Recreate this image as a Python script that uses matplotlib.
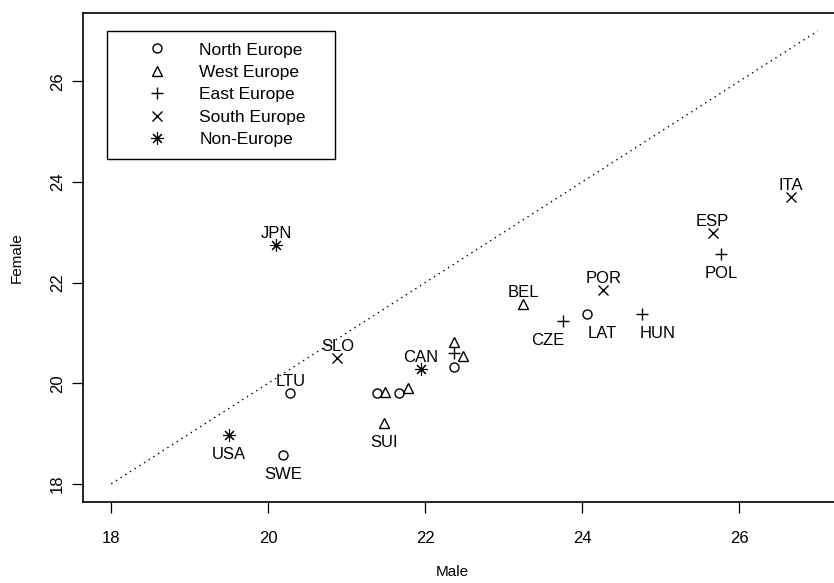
import matplotlib
matplotlib.use("Agg")
import matplotlib.pyplot as plt
from matplotlib.lines import Line2D

plt.rcParams['font.family'] = ['Liberation Sans', 'DejaVu Sans']

# mean age at first marriage by country
male = [20.10, 19.50, 20.19, 20.28, 20.88, 21.94, 21.48,
        21.38, 21.49, 21.67, 21.78,
        22.36, 22.36, 22.48, 22.36,
        23.25, 23.76, 24.06, 24.27, 24.76,
        26.66, 25.66, 25.77]
female = [22.75, 18.97, 18.58, 19.81, 20.50, 20.29, 19.21,
          19.81, 19.83, 19.81, 19.91,
          20.82, 20.60, 20.54, 20.33,
          21.58, 21.24, 21.38, 21.86, 21.38,
          23.71, 22.99, 22.57]
region = ["Non", "Non", "North", "North", "South", "Non", "West",
          "North", "West", "North", "West",
          "West", "East", "West", "North",
          "West", "East", "North", "South", "East",
          "South", "South", "East"]
code = ["JPN", "USA", "SWE", "LTU", "SLO", "CAN", "SUI",
        "", "", "", "",
        "", "", "", "",
        "BEL", "CZE", "LAT", "POR", "HUN",
        "ITA", "ESP", "POL"]

region_names = ["North", "West", "East", "South", "Non"]
legend_labels = ["North Europe", "West Europe", "East Europe",
                 "South Europe", "Non-Europe"]

# marker look per region (R pch 1, 2, 3, 4, 8)
marker_style = {
    "North": dict(marker="o", ms=6.5, mfc="none", mew=1.0),
    "West": dict(marker="^", ms=7, mfc="none", mew=1.0),
    "East": dict(marker="+", ms=9, mew=1.0),
    "South": dict(marker="x", ms=7.5, mew=1.0),
    "Non": dict(marker=(8, 2, 0), ms=9, mew=0.8),
}

# where each country code sits relative to its point (offset points)
up = (0, 8)
down = (0, -14)
label_offset = {
    "JPN": up, "USA": down, "SWE": down, "LTU": up, "SLO": up,
    "CAN": up, "SUI": down, "BEL": up, "CZE": (-11, -14),
    "LAT": (11, -14), "POR": up, "HUN": (11, -14), "ITA": up,
    "ESP": up, "POL": down,
}

fig = plt.figure(figsize=(8.34, 5.83), dpi=100)
ax = fig.add_axes([0.0995, 0.139, 0.915, 0.839])

# reference line: equal ages
ax.plot([18, 27], [18, 27], color="black", lw=1.0, ls=(0, (1, 3)))

for r in region_names:
    xs = [m for m, g in zip(male, region) if g == r]
    ys = [f for f, g in zip(female, region) if g == r]
    ax.plot(xs, ys, ls="none", color="black", **marker_style[r])

for m, f, c in zip(male, female, code):
    if c:
        ax.annotate(c, (m, f), xytext=label_offset[c], textcoords="offset points",
                    ha="center", va="center", fontsize=12)

ax.set_xlim(17.64, 27.36)
ax.set_ylim(17.64, 27.36)
ax.set_xticks([18, 20, 22, 24, 26])
ax.set_yticks([18, 20, 22, 24, 26])
ax.tick_params(direction="out", length=8, width=0.9, labelsize=12)
ax.tick_params(axis="x", pad=13)
ax.tick_params(axis="y", pad=5)
for lab in ax.get_yticklabels():
    lab.set_rotation(90)
    lab.set_va("center")
for s in ax.spines.values():
    s.set_linewidth(1.2)

ax.set_xlabel("Male", fontsize=11, va="center")
ax.set_ylabel("Female", fontsize=11, va="center")
ax.xaxis.set_label_coords(0.484, -0.143)
ax.yaxis.set_label_coords(-0.087, 0.5)

handles = [Line2D([], [], ls="none", color="black", **marker_style[r])
           for r in region_names]
leg = ax.legend(handles, legend_labels, loc="upper left",
                bbox_to_anchor=(0.0315, 0.963 - 0.258, 0.299, 0.258),
                mode="expand", borderaxespad=0, fancybox=False,
                edgecolor="black", framealpha=1, fontsize=12.5,
                handlelength=4.4, handletextpad=0.25, labelspacing=0.42,
                borderpad=0.66)
leg.get_frame().set_linewidth(1.0)

fig.savefig("out.png", dpi=100)
